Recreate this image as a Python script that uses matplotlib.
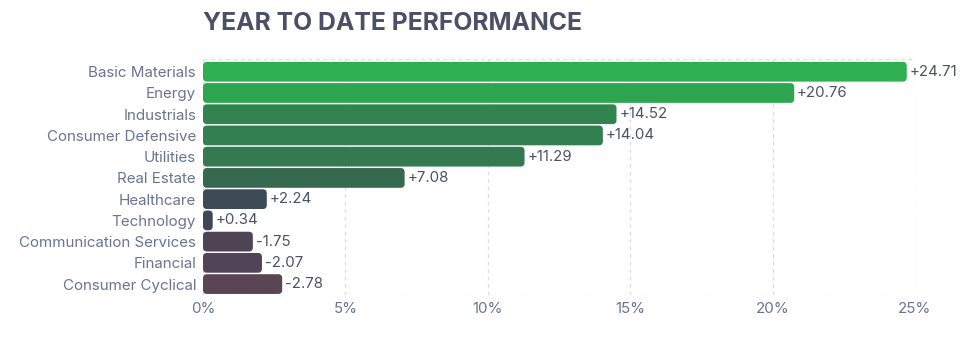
import matplotlib
matplotlib.use("Agg")
import matplotlib.pyplot as plt
from matplotlib.patches import FancyBboxPatch

# Sector year-to-date performance (%)
sectors = ["Basic Materials", "Energy", "Industrials", "Consumer Defensive",
           "Utilities", "Real Estate", "Healthcare", "Technology",
           "Communication Services", "Financial", "Consumer Cyclical"]
values = [24.71, 20.76, 14.52, 14.04, 11.29, 7.08, 2.24, 0.34, -1.75, -2.07, -2.78]
colors = ["#2eb050", "#2ea650", "#31844f", "#32804f", "#347a50", "#376850",
          "#3c4b55", "#414558", "#4e4456", "#504456", "#5a4555"]
ticks = [0, 5, 10, 15, 20, 25]

plt.rcParams['font.family'] = ['Inter', 'DejaVu Sans']

left, right = 203 / 977, 915 / 977
top, bottom = 1 - 59 / 339, 1 - 294.7 / 339
fig = plt.figure(figsize=(9.77, 3.39), dpi=100)
ax = fig.add_axes([left, bottom, right - left, top - bottom])

n = len(sectors)
ax.set_xlim(0, 25)
ax.set_ylim(n - 0.5, -0.6)

# dashed grid + frame lines
grid_kw = dict(color="#dcdde2", lw=0.9, ls=(0, (3, 3)), zorder=0)
for t in ticks:
    ax.axvline(t, **grid_kw)
ax.axhline(-0.6, **grid_kw)
ax.axhline(n - 0.5, **grid_kw)

# rounded bars (length = magnitude of the move)
x_px = (right - left) * 977 / 25
y_px = (top - bottom) * 339 / (n + 0.1)
aspect = x_px / y_px
bar_h = 0.93
for i, (v, c) in enumerate(zip(values, colors)):
    w = abs(v)
    r = min(0.14, w / 2)
    p = FancyBboxPatch((0, i - bar_h / 2), w, bar_h,
                       boxstyle=f"round,pad=0,rounding_size={r}",
                       mutation_aspect=aspect, fc=c, ec="none", zorder=2)
    ax.add_patch(p)
    ax.text(w + 0.1, i, f"{v:+.2f}", va="center", ha="left",
            fontsize=10.8, color="#4b5066", zorder=3)

ax.set_yticks(range(n))
ax.set_yticklabels(sectors)
ax.set_xticks(ticks)
ax.set_xticklabels([f"{t}%" for t in ticks])
ax.tick_params(axis="y", length=0, pad=5, labelsize=10.9, labelcolor="#6b7390")
ax.tick_params(axis="x", length=0, pad=5, labelsize=10.9, labelcolor="#6b7390")
for s in ax.spines.values():
    s.set_visible(False)

fig.text(left, 1 - 23 / 339, "YEAR TO DATE PERFORMANCE", fontsize=17.8,
         fontweight="bold", color="#4b5066", ha="left", va="center")

fig.savefig("out.png", dpi=100)
